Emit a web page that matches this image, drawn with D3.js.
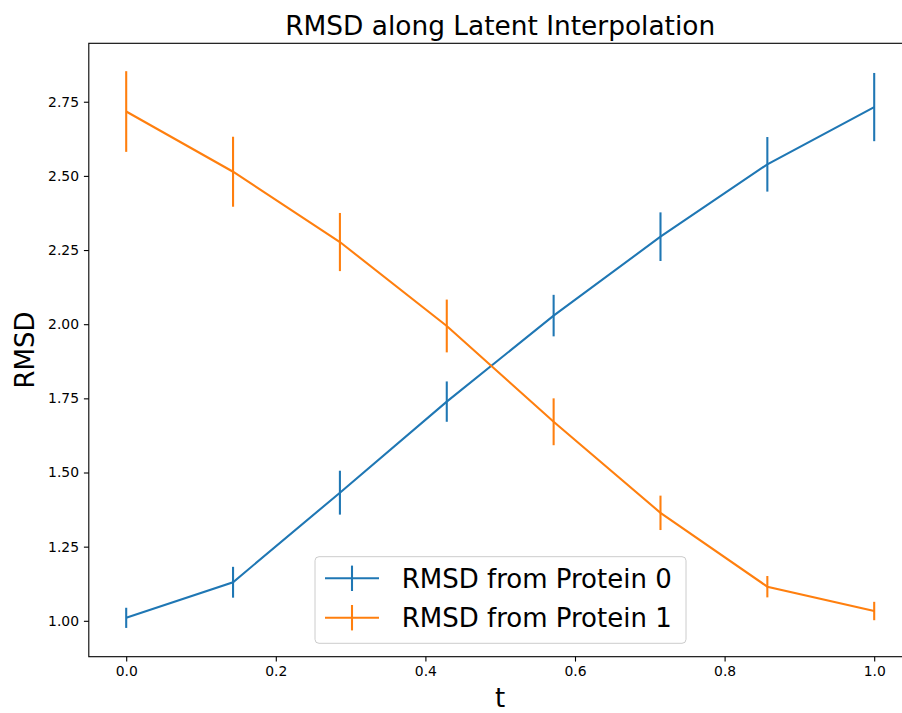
<!DOCTYPE html>
<html>
<head>
<meta charset="utf-8">
<script src="https://cdn.jsdelivr.net/npm/d3@7"></script>
<style>
  body { margin: 0; background: #fff; }
  svg { display: block; font-family: "DejaVu Sans", sans-serif; }
</style>
</head>
<body>
<svg id="chart"></svg>
<script>
// значения t вдоль интерполяции
const tValues = [0, 1 / 7, 2 / 7, 3 / 7, 4 / 7, 5 / 7, 6 / 7, 1]
// RMSD от белка 0 и погрешности
const rmsd0 = [1.010, 1.130, 1.432, 1.739, 2.029, 2.295, 2.539, 2.732]
const err0 = [0.034, 0.052, 0.074, 0.068, 0.070, 0.082, 0.092, 0.115]
// RMSD от белка 1 и погрешности
const rmsd1 = [2.717, 2.514, 2.277, 1.994, 1.671, 1.364, 1.115, 1.033]
const err1 = [0.136, 0.118, 0.098, 0.089, 0.079, 0.058, 0.036, 0.031]

const xTicks = [0.0, 0.2, 0.4, 0.6, 0.8, 1.0]
const yTicks = [1.00, 1.25, 1.50, 1.75, 2.00, 2.25, 2.50, 2.75]
const seriesNames = ['RMSD from Protein 0', 'RMSD from Protein 1']
const colors = ['#1f77b4', '#ff7f0e']

const width = 902
const height = 713
const plotLeft = 88.8
const plotRight = 911.6
const plotTop = 43.3
const plotBottom = 656.7

let svg = d3.select('#chart').attr('width', width).attr('height', height)

let scaleX = d3.scaleLinear().domain([-0.05, 1.05]).range([plotLeft, plotRight])
let scaleY = d3.scaleLinear().domain([0.879, 2.947]).range([plotBottom, plotTop])

// оси
let axisX = d3.axisBottom(scaleX).tickValues(xTicks).tickFormat(d3.format('.1f'))
  .tickSizeInner(4.9).tickSizeOuter(0).tickPadding(4.9)
let axisY = d3.axisLeft(scaleY).tickValues(yTicks).tickFormat(d3.format('.2f'))
  .tickSizeInner(4.9).tickSizeOuter(0).tickPadding(4.9)

let gx = svg.append('g')
  .attr('transform', `translate(0, ${plotBottom})`)
  .call(axisX)
let gy = svg.append('g')
  .attr('transform', `translate(${plotLeft}, 0)`)
  .call(axisY)

;[gx, gy].forEach(g => {
  g.select('.domain').remove()
  g.selectAll('line').attr('stroke', '#000').attr('stroke-width', 1.1)
  g.selectAll('text').attr('fill', '#000').style('font-size', '13.9px')
    .style('font-family', '"DejaVu Sans", sans-serif')
})

// рамка осей
svg.append('rect')
  .attr('x', plotLeft).attr('y', plotTop)
  .attr('width', plotRight - plotLeft).attr('height', plotBottom - plotTop)
  .attr('fill', 'none').attr('stroke', '#000').attr('stroke-width', 1.1)

// линии и погрешности
let line = d3.line().x(d => scaleX(d[0])).y(d => scaleY(d[1]))
let series = [[rmsd0, err0], [rmsd1, err1]]

series.forEach(([vals, errs], i) => {
  let pts = tValues.map((t, j) => [t, vals[j], errs[j]])
  svg.append('path')
    .datum(pts)
    .attr('d', line)
    .attr('fill', 'none')
    .attr('stroke', colors[i])
    .attr('stroke-width', 2.08)
  svg.selectAll(`.err-${i}`)
    .data(pts)
    .enter()
    .append('line')
    .attr('class', `err-${i}`)
    .attr('x1', d => scaleX(d[0]))
    .attr('x2', d => scaleX(d[0]))
    .attr('y1', d => scaleY(d[1] - d[2]))
    .attr('y2', d => scaleY(d[1] + d[2]))
    .attr('stroke', colors[i])
    .attr('stroke-width', 2.08)
})

// заголовок и подписи осей
svg.append('text')
  .attr('x', (plotLeft + plotRight) / 2).attr('y', 35)
  .attr('text-anchor', 'middle')
  .style('font-size', '26.4px')
  .text('RMSD along Latent Interpolation')

svg.append('text')
  .attr('x', (plotLeft + plotRight) / 2).attr('y', 707)
  .attr('text-anchor', 'middle')
  .style('font-size', '26px')
  .text('t')

svg.append('text')
  .attr('transform', `translate(34, ${(plotTop + plotBottom) / 2}) rotate(-90)`)
  .attr('text-anchor', 'middle')
  .style('font-size', '26px')
  .text('RMSD')

// легенда
let legend = svg.append('g')
legend.append('rect')
  .attr('x', 315).attr('y', 556.7)
  .attr('width', 371).attr('height', 86.6)
  .attr('rx', 4).attr('ry', 4)
  .attr('fill', 'rgba(255,255,255,0.8)')
  .attr('stroke', '#cccccc').attr('stroke-width', 1)

seriesNames.forEach((name, i) => {
  let cy = 578.3 + i * 39.4
  legend.append('line')
    .attr('x1', 325).attr('x2', 379).attr('y1', cy).attr('y2', cy)
    .attr('stroke', colors[i]).attr('stroke-width', 2.08)
  legend.append('line')
    .attr('x1', 352).attr('x2', 352).attr('y1', cy - 12.7).attr('y2', cy + 12.7)
    .attr('stroke', colors[i]).attr('stroke-width', 2.08)
  legend.append('text')
    .attr('x', 401.7).attr('y', cy + 9.3)
    .style('font-size', '26px')
    .attr('fill', '#000')
    .text(name)
})
</script>
</body>
</html>
